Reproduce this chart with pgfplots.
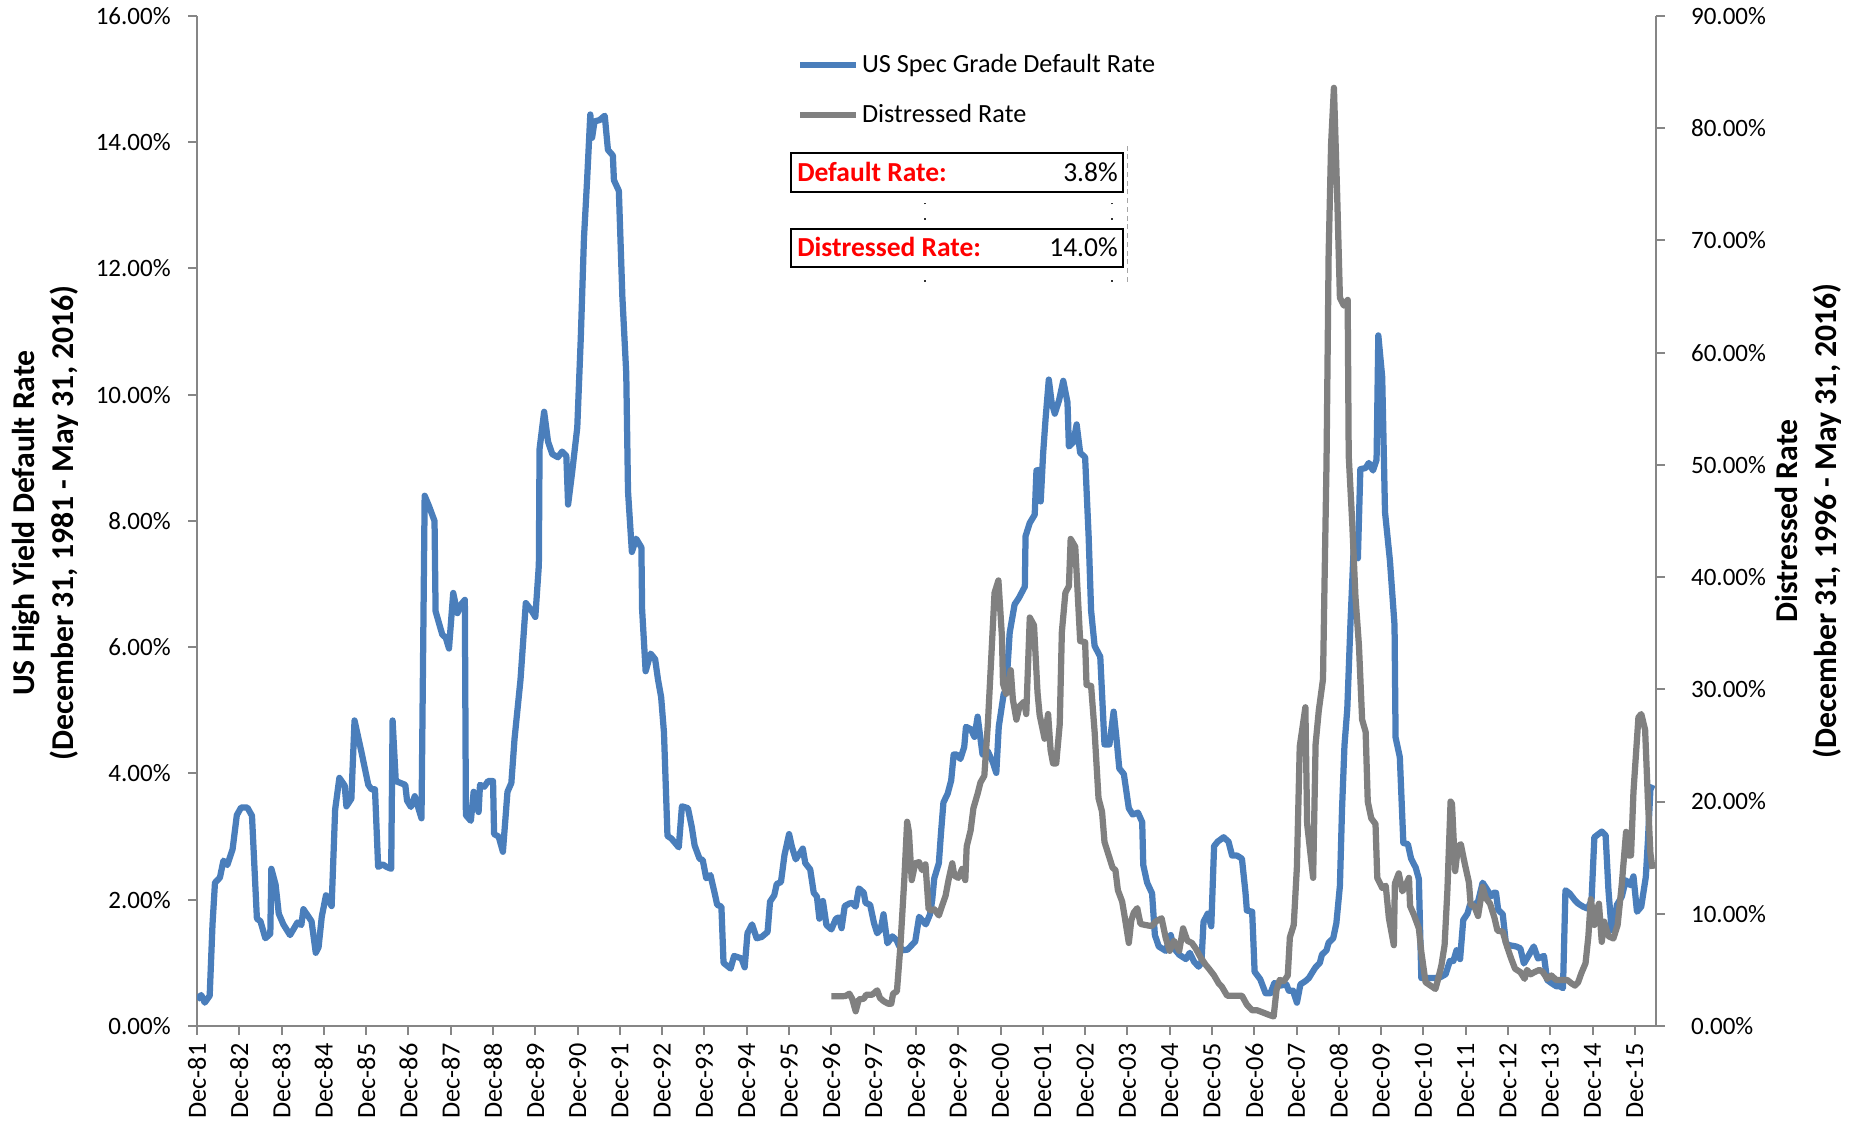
\documentclass[border=0pt]{standalone}
\usepackage{pgfplots}
\pgfplotsset{compat=1.18}
\usepackage{fontspec}
\setmainfont{Carlito}
\definecolor{blueline}{RGB}{74,126,187}
\definecolor{grayline}{RGB}{128,128,128}
\definecolor{axisgray}{RGB}{134,134,134}
\begin{document}
\begin{tikzpicture}[font=\fontsize{10.5}{12.6}\selectfont]
\useasboundingbox (0,0) rectangle (745.6pt,448.8pt);
\pgfplotsset{
  base/.style={
    scale only axis, width=583.6pt, height=404pt,
    at={(78.8pt,38.4pt)}, anchor=south west,
    xmin=0, xmax=414,
    /pgf/number format/assume math mode=true,
    tick align=outside,
    major tick length=3.5pt,
    every tick/.style={axisgray, line width=0.8pt},
    axis line style={axisgray, line width=0.8pt},
    tick label style={font=\fontsize{10}{12}\selectfont, black},
  }
}
\begin{axis}[base,
  axis y line*=left, axis x line*=bottom,
  ymin=0, ymax=16, ytick={0,2,...,16},
  yticklabel={\pgfmathprintnumber[fixed,fixed zerofill,precision=2]{\tick}\%},
  yticklabel style={xshift=-3.5pt},
  xtick={0,12,...,408},
  xticklabels={Dec-81,Dec-82,Dec-83,Dec-84,Dec-85,Dec-86,Dec-87,Dec-88,Dec-89,Dec-90,Dec-91,Dec-92,Dec-93,Dec-94,Dec-95,Dec-96,Dec-97,Dec-98,Dec-99,Dec-00,Dec-01,Dec-02,Dec-03,Dec-04,Dec-05,Dec-06,Dec-07,Dec-08,Dec-09,Dec-10,Dec-11,Dec-12,Dec-13,Dec-14,Dec-15},
  x tick label style={rotate=90, anchor=east, font=\fontsize{10.5}{12.6}\selectfont},
]
\addplot[blueline, line width=2.5pt, line join=round] coordinates {
(0,0.42)(1.2,0.49)(2.2,0.37)(3.6,0.48)(4.4,1.61)(5.1,2.27)(6.5,2.35)(7.5,2.62)(8.6,2.55)(10.1,2.80)(11.3,3.34)(12.5,3.46)(14.3,3.46)(15.6,3.33)(17.0,1.70)(18.0,1.66)(19.4,1.39)(20.8,1.46)(21.1,2.49)(22.3,2.24)(23.2,1.78)(24.5,1.61)(26.4,1.44)(28.5,1.64)(29.6,1.60)(30.2,1.85)(32.5,1.66)(33.7,1.16)(34.5,1.25)(35.4,1.73)(36.6,2.07)(38.2,1.90)(39.2,3.43)(40.4,3.93)(41.9,3.81)(42.4,3.48)(43.8,3.60)(44.7,4.84)(46.7,4.33)(48.6,3.82)(49.5,3.75)(50.5,3.75)(51.4,2.52)(52.7,2.56)(53.8,2.52)(55.1,2.49)(55.5,4.84)(56.4,3.88)(59.1,3.82)(59.6,3.57)(60.7,3.47)(61.8,3.64)(63.7,3.29)(64.6,8.40)(65.8,8.24)(67.4,8.00)(67.7,6.57)(69.6,6.20)(70.6,6.15)(71.5,5.98)(72.7,6.86)(73.9,6.54)(75.1,6.69)(76.0,6.75)(76.3,3.34)(77.7,3.25)(78.5,3.71)(79.9,3.39)(80.3,3.82)(81.5,3.79)(82.6,3.88)(84.0,3.88)(84.3,3.04)(85.6,3.00)(86.8,2.76)(88.1,3.71)(89.2,3.85)(90.1,4.55)(91.8,5.49)(93.3,6.70)(94.7,6.60)(96.0,6.48)(97.0,7.30)(97.2,9.14)(98.5,9.73)(99.6,9.26)(100.8,9.06)(102.4,9.01)(103.6,9.10)(104.8,9.03)(105.3,8.26)(106.4,8.75)(107.9,9.48)(108.9,10.90)(109.8,12.48)(110.7,13.41)(111.6,14.44)(112.1,14.07)(112.8,14.33)(114.2,14.35)(115.7,14.42)(116.6,13.88)(118.0,13.79)(118.3,13.40)(119.7,13.23)(120.7,11.55)(121.8,10.34)(122.3,8.47)(123.4,7.51)(124.6,7.72)(126.1,7.58)(126.3,6.60)(127.3,5.62)(128.7,5.90)(130.0,5.81)(130.8,5.49)(131.7,5.21)(132.5,4.65)(133.5,3.01)(134.6,2.97)(136.7,2.83)(137.6,3.48)(139.3,3.45)(140.4,3.15)(141.2,2.86)(142.6,2.65)(143.5,2.63)(144.5,2.34)(145.7,2.39)(146.9,2.10)(147.6,1.92)(148.8,1.89)(149.4,1.00)(151.4,0.91)(152.4,1.11)(154.5,1.07)(155.4,0.93)(156.2,1.47)(157.5,1.61)(158.8,1.39)(160.2,1.41)(161.9,1.49)(162.6,1.97)(163.8,2.07)(164.5,2.25)(165.7,2.28)(166.7,2.71)(168.0,3.04)(168.8,2.84)(169.9,2.64)(171.9,2.81)(172.6,2.58)(174.0,2.48)(175.0,2.11)(175.9,2.05)(176.6,1.70)(177.6,1.98)(178.6,1.60)(180.0,1.53)(181.3,1.70)(182.1,1.72)(182.9,1.55)(183.8,1.90)(185.1,1.94)(185.9,1.95)(186.9,1.89)(187.8,2.18)(189.2,2.11)(189.7,1.95)(191.0,1.92)(192.1,1.63)(193.0,1.47)(194.0,1.53)(194.8,1.77)(195.9,1.31)(197.3,1.42)(198.5,1.36)(199.2,1.27)(200.2,1.20)(201.6,1.21)(203.8,1.34)(204.9,1.73)(205.7,1.68)(206.8,1.61)(208.0,1.77)(208.6,1.99)(209.2,2.34)(210.5,2.58)(211.1,3.05)(211.8,3.54)(213.0,3.68)(214.0,3.89)(214.7,4.30)(215.6,4.30)(216.6,4.23)(217.7,4.42)(218.2,4.74)(219.6,4.70)(220.6,4.58)(221.5,4.90)(222.9,4.30)(224.4,4.35)(225.8,4.18)(226.8,4.01)(227.5,4.74)(228.9,5.26)(229.6,5.33)(230.6,6.23)(232.0,6.68)(233.2,6.78)(234.9,6.96)(235.1,7.76)(236.3,7.97)(237.7,8.10)(238.2,8.80)(238.9,8.81)(239.4,8.31)(240.1,9.08)(240.8,9.63)(241.7,10.24)(242.5,9.88)(243.4,9.70)(244.6,9.91)(245.8,10.22)(247.0,9.88)(247.4,9.18)(248.7,9.25)(249.6,9.53)(250.6,9.08)(252.0,9.01)(253.0,7.76)(253.7,6.58)(254.7,6.02)(256.3,5.85)(257.5,4.46)(258.9,4.46)(260.1,4.98)(260.9,4.56)(261.7,4.08)(263.0,3.99)(264.4,3.45)(265.5,3.35)(267.0,3.38)(268.2,3.23)(268.5,2.55)(269.6,2.27)(271.0,2.10)(271.8,1.44)(272.9,1.26)(274.9,1.19)(276.3,1.44)(277.2,1.23)(278.7,1.13)(280.6,1.06)(281.7,1.16)(282.9,1.02)(284.2,0.94)(285.0,1.00)(285.6,1.65)(286.8,1.78)(287.8,1.58)(288.6,2.85)(289.6,2.92)(291.3,2.99)(292.7,2.92)(293.7,2.70)(295.1,2.70)(296.5,2.65)(297.5,2.12)(297.9,1.83)(299.4,1.81)(300.1,0.86)(301.7,0.74)(303.2,0.52)(304.6,0.52)(305.7,0.68)(307.4,0.64)(309.1,0.66)(309.8,0.56)(311.0,0.56)(312.1,0.37)(313.1,0.66)(314.5,0.71)(315.5,0.76)(316.7,0.87)(317.4,0.93)(318.6,1.00)(319.2,1.13)(320.5,1.20)(321.1,1.32)(322.4,1.39)(323.3,1.63)(324.3,2.22)(324.9,3.43)(325.6,4.45)(326.4,5.03)(327.3,6.39)(328.2,7.56)(329.4,7.41)(330.1,8.82)(331.6,8.84)(332.5,8.92)(333.7,8.80)(334.7,8.97)(335.2,10.94)(336.3,10.28)(337.1,8.14)(338.5,7.37)(339.8,6.35)(340.1,4.57)(341.3,4.26)(342.3,2.90)(343.6,2.88)(344.5,2.65)(345.8,2.51)(346.7,2.33)(347.4,0.76)(349.1,0.76)(351.0,0.76)(352.7,0.77)(354.3,0.82)(355.5,1.03)(356.5,1.03)(357.4,1.20)(358.4,1.06)(359.3,1.68)(360.5,1.78)(361.2,1.92)(362.4,1.92)(363.5,1.97)(364.8,2.27)(366.2,2.15)(367.1,2.05)(367.9,2.11)(368.6,2.11)(369.2,1.84)(370.5,1.77)(371.4,1.31)(372.4,1.28)(374.3,1.26)(375.5,1.23)(376.5,0.99)(378.1,1.14)(379.3,1.26)(380.5,1.07)(382.2,1.11)(383.1,0.73)(384.3,0.68)(385.7,0.63)(386.7,0.63)(387.6,0.60)(388.3,2.15)(389.5,2.10)(391.0,1.99)(391.9,1.94)(393.3,1.89)(394.6,1.86)(395.7,1.99)(396.5,2.99)(398.6,3.08)(399.7,3.02)(400.5,2.15)(401.4,1.52)(402.2,1.65)(402.9,1.92)(404.3,2.05)(405.4,2.31)(406.7,2.23)(407.6,2.37)(408.6,1.81)(409.8,1.89)(411.1,2.36)(411.7,2.94)(412.4,3.74)(413.0,3.82)
};
\end{axis}
\begin{axis}[base,
  axis y line*=right, axis x line=none,
  ymin=0, ymax=90, ytick={0,10,...,90},
  yticklabel={\pgfmathprintnumber[fixed,fixed zerofill,precision=2]{\tick}\%},
  yticklabel style={xshift=7pt},
  legend style={at={(0.4109,0.9655)}, anchor=north west, draw=none, fill=none,
    font=\fontsize{10.5}{12.6}\selectfont, row sep=9.4pt, inner sep=0pt, nodes={inner sep=1pt}},
  legend image code/.code={\draw[#1] (0pt,0pt) -- (22.4pt,0pt);},
  legend cell align=left,
]
\addlegendimage{blueline, line width=2.6pt}
\addlegendentry{US Spec Grade Default Rate}
\addplot[grayline, line width=2.5pt, line join=round] coordinates {
(180,2.64)(182.1,2.64)(184.0,2.67)(185.1,2.88)(185.9,2.43)(186.9,1.31)(187.8,2.37)(189.2,2.43)(189.9,2.79)(191.6,2.79)(193.0,3.18)(193.8,2.49)(194.9,2.20)(196.1,1.99)(197.0,1.99)(197.5,2.88)(198.6,3.09)(199.6,7.18)(200.7,13.1)(201.5,18.2)(202.0,17.3)(202.8,13.0)(203.8,14.5)(204.9,14.6)(205.7,13.9)(206.7,14.4)(207.6,10.4)(208.6,10.3)(209.2,10.4)(210.5,9.85)(211.4,10.7)(212.4,11.6)(213.3,13.1)(214.3,14.5)(214.9,13.4)(216.0,13.2)(217.1,14.0)(218.0,13.0)(218.4,16.0)(219.5,17.4)(220.3,19.4)(221.5,20.7)(222.3,21.7)(223.4,22.3)(224.4,26.9)(225.3,32.4)(226.3,38.6)(227.4,39.7)(228.4,34.7)(228.7,30.5)(229.6,29.6)(230.9,31.7)(231.5,29.1)(232.5,27.3)(233.4,28.5)(234.7,28.9)(235.3,27.8)(236.3,36.4)(237.5,35.7)(238.5,29.7)(239.1,27.7)(240.5,25.6)(241.5,27.8)(242.2,24.6)(242.9,23.4)(243.8,23.4)(244.8,26.9)(245.4,35.1)(246.4,38.6)(247.4,39.2)(247.9,43.4)(249.2,42.7)(250.0,37.9)(250.6,34.3)(252.0,34.2)(252.4,30.4)(253.7,30.3)(254.7,26.2)(255.8,20.3)(256.8,19.1)(257.5,16.4)(258.7,15.2)(259.8,14.1)(260.6,13.9)(261.3,12.1)(262.5,11.1)(263.4,9.4)(264.4,7.4)(265.1,9.4)(265.8,10.1)(266.8,10.5)(267.7,9.1)(269.1,9.0)(270.9,8.9)(272.0,9.3)(273.7,9.6)(274.9,7.8)(276.0,6.7)(277.2,7.6)(278.7,6.7)(279.8,8.7)(281.0,7.6)(282.3,7.4)(283.4,6.9)(284.6,6.2)(286.1,5.5)(287.4,5.0)(288.6,4.5)(289.9,3.8)(290.8,3.5)(292.3,2.7)(293.7,2.7)(295.1,2.7)(296.5,2.7)(297.9,1.9)(299.4,1.4)(300.8,1.4)(302.5,1.2)(304.1,1.0)(305.5,0.85)(306.3,3.2)(307.2,4.1)(308.4,4.0)(309.5,4.5)(310.1,7.9)(311.2,9.0)(312.1,14.2)(312.9,24.9)(314.5,28.4)(315.0,18.0)(316.7,13.2)(317.4,25.1)(318.3,28.1)(319.5,30.9)(319.9,38.8)(320.5,50.2)(321.1,68.8)(321.8,78.6)(322.6,83.6)(323.5,74.3)(324.3,64.9)(325.4,64.2)(326.5,64.7)(326.8,50.8)(327.8,44.8)(328.7,38.3)(329.7,33.9)(330.6,27.3)(331.6,26.2)(332.2,20.0)(333.2,18.5)(334.4,18.0)(334.9,13.2)(336.3,12.3)(337.3,12.5)(338.2,9.6)(339.6,7.2)(339.9,12.7)(341.0,13.6)(342.0,12.0)(342.6,12.3)(343.9,13.2)(344.2,10.7)(345.3,9.9)(346.7,8.7)(347.4,6.6)(348.6,3.9)(350.0,3.6)(351.4,3.3)(352.1,4.1)(353.1,5.4)(354.0,7.2)(354.8,12.1)(355.7,20.0)(356.1,19.8)(357.0,13.8)(357.8,16.0)(358.6,16.2)(359.7,14.5)(360.9,12.8)(361.4,10.8)(362.4,10.7)(363.5,9.8)(364.8,12.4)(365.7,11.4)(366.9,10.9)(368.1,9.7)(369.0,8.5)(370.5,8.4)(371.7,7.1)(372.9,6.0)(374.0,5.1)(375.5,4.8)(376.7,4.2)(377.4,5.0)(378.4,4.6)(379.5,4.8)(380.9,5.0)(381.9,4.8)(383.1,4.2)(384.3,4.5)(385.7,4.1)(387.1,4.1)(388.8,4.1)(390.0,3.8)(391.0,3.6)(391.9,3.9)(392.8,4.7)(394.0,5.6)(394.8,8.0)(395.5,11.3)(396.5,9.0)(397.1,10.2)(397.8,10.9)(398.6,7.5)(399.3,9.3)(400.5,8.0)(401.9,7.8)(403.1,9.0)(404.3,12.7)(405.5,17.3)(406.2,15.2)(406.9,15.2)(407.6,20.9)(409.0,27.5)(409.8,27.8)(410.9,26.4)(411.7,20.1)(412.4,15.4)(413.0,14.0)
};
\addlegendentry{Distressed Rate}
\end{axis}
% axis titles
\node[rotate=90, align=center, font=\fontsize{12.7}{15.6}\selectfont\bfseries] at (18.2pt,239.6pt)
  {US High Yield Default Rate\\(December 31, 1981 - May 31, 2016)};
\node[rotate=90, align=center, font=\fontsize{12.7}{15.6}\selectfont\bfseries] at (723.4pt,240.4pt)
  {Distressed Rate\\(December 31, 1996 - May 31, 2016)};
% annotation boxes
\draw[gray!70, dash pattern=on 2pt off 1.5pt, line width=0.5pt] (451.1pt,336pt) -- (451.1pt,390.8pt);
\draw[black!80, dash pattern=on 0.7pt off 5.5pt, line width=0.7pt] (370pt,336pt) -- (370pt,379pt);
\draw[black!80, dash pattern=on 0.7pt off 5.5pt, line width=0.7pt] (444.7pt,336pt) -- (444.7pt,379pt);
\draw[black, line width=0.8pt, fill=white] (316.3pt,372.1pt) rectangle (449.2pt,387.7pt);
\draw[black, line width=0.8pt, fill=white] (316.3pt,341.9pt) rectangle (449.2pt,357.2pt);
\node[anchor=base west, inner sep=0pt, text=red, font=\fontsize{11}{13}\selectfont\bfseries] at (318.7pt,376.3pt) {Default Rate:};
\node[anchor=base east, inner sep=0pt, font=\fontsize{11}{13}\selectfont] at (447.3pt,376.3pt) {3.8\%};
\node[anchor=base west, inner sep=0pt, text=red, font=\fontsize{11}{13}\selectfont\bfseries] at (318.7pt,346pt) {Distressed Rate:};
\node[anchor=base east, inner sep=0pt, font=\fontsize{11}{13}\selectfont] at (447.3pt,346pt) {14.0\%};
\end{tikzpicture}
\end{document}
